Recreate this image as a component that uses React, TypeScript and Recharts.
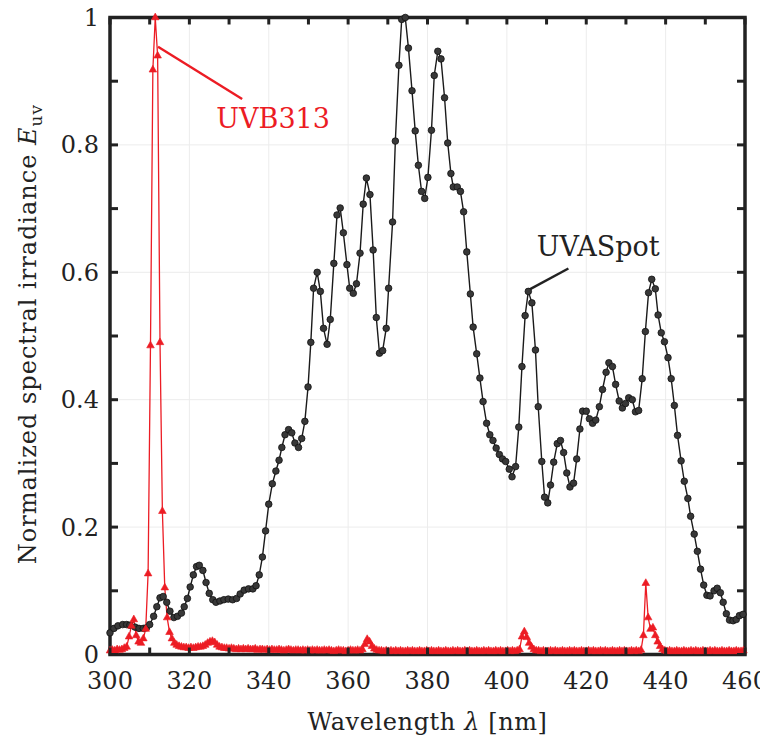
import React from 'react'
import {
  LineChart,
  Line,
  XAxis,
  YAxis,
  CartesianGrid,
  ReferenceLine,
  ReferenceDot,
} from 'recharts'

// ============================================
// Data
// ============================================

// UVASpot lamp, sampled wavelengths [nm]
const UVA_NM = [
  300.0, 301.0, 302.0, 303.2, 304.2, 305.0, 306.3, 307.3, 308.4, 309.2,
  310.0, 311.0, 311.8, 312.6, 313.4, 314.3, 315.1, 316.1, 317.0, 318.0,
  318.7, 319.5, 320.2, 321.0, 321.8, 322.5, 323.4, 324.2, 325.0, 325.9,
  326.7, 327.7, 328.7, 329.8, 330.9, 331.9, 332.8, 333.8, 334.9, 336.0,
  336.8, 337.6, 338.4, 339.2, 340.0, 340.9, 341.8, 342.6, 343.3, 344.1,
  345.0, 345.8, 346.6, 347.5, 348.3, 349.1, 349.9, 350.6, 351.3, 352.2,
  353.0, 353.8, 354.7, 355.5, 356.4, 357.2, 358.0, 358.8, 359.7, 360.4,
  361.3, 362.1, 363.0, 363.8, 364.6, 365.5, 366.3, 367.1, 367.9, 368.7,
  369.6, 370.2, 371.2, 371.9, 372.8, 373.5, 374.4, 375.2, 376.1, 376.9,
  377.7, 378.5, 379.3, 380.1, 381.0, 381.7, 382.6, 383.4, 384.3, 385.1,
  385.9, 386.5, 387.5, 388.3, 389.1, 389.9, 390.8, 391.5, 392.4, 393.2,
  394.0, 394.9, 395.7, 396.5, 397.3, 398.1, 398.9, 399.7, 400.6, 401.3,
  402.2, 403.0, 403.8, 404.6, 405.4, 406.3, 407.2, 407.9, 408.8, 409.5,
  410.3, 411.0, 411.8, 412.7, 413.5, 414.3, 415.1, 415.9, 416.8, 417.6,
  418.4, 419.1, 420.0, 420.8, 421.6, 422.4, 423.3, 424.1, 425.0, 425.7,
  426.6, 427.4, 428.3, 429.1, 429.9, 430.7, 431.6, 432.4, 433.2, 434.1,
  434.9, 435.7, 436.5, 437.4, 438.1, 438.9, 439.7, 440.6, 441.4, 442.2,
  443.0, 443.9, 444.7, 445.6, 446.3, 447.2, 448.0, 448.8, 449.6, 450.4,
  451.2, 452.2, 453.0, 453.8, 454.5, 455.3, 456.1, 457.0, 457.8, 458.6,
  459.5,
]

const UVA_VALUE = [
  0.034, 0.041, 0.045, 0.047, 0.047, 0.046, 0.043, 0.041, 0.041, 0.042,
  0.047, 0.060, 0.075, 0.089, 0.091, 0.082, 0.068, 0.058, 0.060, 0.065,
  0.075, 0.088, 0.106, 0.125, 0.138, 0.140, 0.132, 0.113, 0.096, 0.086,
  0.082, 0.084, 0.086, 0.087, 0.086, 0.088, 0.095, 0.101, 0.103, 0.103,
  0.108, 0.125, 0.153, 0.194, 0.236, 0.268, 0.288, 0.305, 0.325, 0.345,
  0.353, 0.348, 0.332, 0.325, 0.339, 0.366, 0.420, 0.490, 0.575, 0.600,
  0.570, 0.512, 0.487, 0.526, 0.614, 0.690, 0.701, 0.662, 0.612, 0.575,
  0.567, 0.582, 0.630, 0.707, 0.748, 0.722, 0.635, 0.529, 0.473, 0.477,
  0.512, 0.575, 0.679, 0.806, 0.925, 0.997, 1.000, 0.952, 0.885, 0.822,
  0.768, 0.727, 0.716, 0.749, 0.823, 0.909, 0.947, 0.935, 0.874, 0.803,
  0.755, 0.734, 0.734, 0.727, 0.695, 0.632, 0.566, 0.514, 0.472, 0.434,
  0.397, 0.363, 0.345, 0.336, 0.324, 0.314, 0.307, 0.303, 0.291, 0.279,
  0.295, 0.357, 0.452, 0.532, 0.570, 0.552, 0.478, 0.389, 0.303, 0.247,
  0.238, 0.266, 0.302, 0.331, 0.336, 0.317, 0.285, 0.263, 0.269, 0.307,
  0.354, 0.382, 0.382, 0.370, 0.363, 0.368, 0.389, 0.416, 0.443, 0.458,
  0.452, 0.424, 0.398, 0.387, 0.394, 0.403, 0.400, 0.381, 0.383, 0.433,
  0.507, 0.568, 0.589, 0.574, 0.533, 0.505, 0.491, 0.466, 0.433, 0.391,
  0.344, 0.304, 0.272, 0.245, 0.217, 0.189, 0.162, 0.134, 0.109, 0.093,
  0.092, 0.100, 0.104, 0.097, 0.082, 0.064, 0.054, 0.053, 0.055, 0.061,
  0.063,
]

// UVB313 lamp, sampled every 0.6 nm from 300 nm
const UVB_START_NM = 300
const UVB_STEP_NM = 0.6
const UVB_VALUE = [
  0.006, 0.007, 0.006, 0.008, 0.007, 0.008, 0.010, 0.012, 0.028, 0.045,
  0.055, 0.030, 0.020, 0.018, 0.025, 0.040, 0.127, 0.485, 0.918, 1.000,
  0.940, 0.490, 0.225, 0.105, 0.058, 0.035, 0.025, 0.018, 0.015, 0.013,
  0.012, 0.011, 0.011, 0.010, 0.011, 0.010, 0.011, 0.012, 0.012, 0.013,
  0.015, 0.018, 0.020, 0.021, 0.019, 0.015, 0.012, 0.011, 0.010, 0.010,
  0.009, 0.010, 0.009, 0.008, 0.009, 0.008, 0.009, 0.008, 0.009, 0.008,
  0.008, 0.009, 0.007, 0.008, 0.008, 0.007, 0.008, 0.007, 0.008, 0.007,
  0.007, 0.008, 0.007, 0.006, 0.007, 0.008, 0.007, 0.006, 0.007, 0.007,
  0.006, 0.007, 0.006, 0.007, 0.006, 0.007, 0.006, 0.007, 0.006, 0.006,
  0.007, 0.006, 0.007, 0.006, 0.005, 0.006, 0.007, 0.006, 0.006, 0.005,
  0.006, 0.007, 0.006, 0.006, 0.007, 0.006, 0.008, 0.016, 0.024, 0.020,
  0.013, 0.009, 0.007, 0.006, 0.006, 0.005, 0.006, 0.005, 0.006, 0.005,
  0.006, 0.005, 0.006, 0.005, 0.005, 0.006, 0.005, 0.006, 0.005, 0.005,
  0.006, 0.005, 0.005, 0.006, 0.005, 0.006, 0.005, 0.005, 0.006, 0.005,
  0.005, 0.006, 0.005, 0.005, 0.006, 0.005, 0.006, 0.005, 0.005, 0.006,
  0.005, 0.006, 0.005, 0.005, 0.006, 0.005, 0.005, 0.006, 0.005, 0.006,
  0.005, 0.005, 0.006, 0.005, 0.006, 0.005, 0.005, 0.006, 0.005, 0.006,
  0.005, 0.006, 0.008, 0.028, 0.036, 0.027, 0.018, 0.012, 0.008, 0.006,
  0.006, 0.005, 0.006, 0.005, 0.005, 0.006, 0.005, 0.006, 0.005, 0.005,
  0.006, 0.005, 0.005, 0.006, 0.005, 0.006, 0.005, 0.005, 0.006, 0.005,
  0.005, 0.006, 0.005, 0.006, 0.005, 0.005, 0.006, 0.005, 0.006, 0.005,
  0.005, 0.006, 0.005, 0.005, 0.006, 0.005, 0.006, 0.005, 0.005, 0.006,
  0.005, 0.006, 0.005, 0.007, 0.030, 0.112, 0.058, 0.040, 0.042, 0.030,
  0.020, 0.013, 0.008, 0.006, 0.005, 0.006, 0.005, 0.005, 0.006, 0.005,
  0.005, 0.006, 0.005, 0.005, 0.006, 0.005, 0.006, 0.005, 0.005, 0.006,
  0.005, 0.005, 0.006, 0.005, 0.006, 0.005, 0.005, 0.006, 0.005, 0.005,
  0.006, 0.005, 0.005, 0.006, 0.005, 0.005, 0.006,
]

const X_TICKS = [300, 310, 320, 330, 340, 350, 360, 370, 380, 390, 400, 410, 420, 430, 440, 450, 460]
const X_GRID = [320, 340, 360, 380, 400, 420, 440]
const Y_TICKS = [0, 0.1, 0.2, 0.3, 0.4, 0.5, 0.6, 0.7, 0.8, 0.9, 1]
const Y_GRID = [0.2, 0.4, 0.6, 0.8]

// annotation anchors in data units
const UVB_LEADER = [{ x: 312.1, y: 0.954 }, { x: 333.3, y: 0.872 }]
const UVB_TEXT_AT = { x: 341.1, y: 0.842 }
const UVA_LEADER = [{ x: 405.4, y: 0.572 }, { x: 415.5, y: 0.606 }]
const UVA_TEXT_AT = { x: 423.0, y: 0.641 }

// ============================================
// Layout and styles
// ============================================

const CHART_W = 760
const CHART_H = 732
const MARGIN = { top: 9.5, right: 23, left: 0, bottom: 35.5 }
const Y_AXIS_W = 102
const X_AXIS_H = 50
const PLOT_LEFT = MARGIN.left + Y_AXIS_W
const PLOT_RIGHT = CHART_W - MARGIN.right
const PLOT_TOP = MARGIN.top
const PLOT_BOTTOM = CHART_H - MARGIN.bottom - X_AXIS_H

const FONT = '"DejaVu Serif", "Liberation Serif", "Times New Roman", serif'
const RED = '#ec1c24'
const INK = '#222'
const TICK_LEN = 7

const uvaData = UVA_NM.map((nm, i) => ({ x: nm, y: UVA_VALUE[i] }))
const uvbData = UVB_VALUE.map((v, i) => ({
  x: Math.round((UVB_START_NM + i * UVB_STEP_NM) * 10) / 10,
  y: v,
}))

function formatX(v: number): string {
  return v % 20 === 0 ? String(v) : ''
}

function formatY(v: number): string {
  const k = Math.round(v * 10)
  if (k % 2 !== 0) return ''
  if (k === 0) return '0'
  if (k === 10) return '1'
  return (k / 10).toFixed(1)
}

// ============================================
// Marks, ticks and labels
// ============================================

function TriangleDot(props: any) {
  const { cx, cy, index } = props
  if (cx == null || cy == null) return <g key={index} />
  const pts = `${cx},${cy - 4.4} ${cx - 3.8},${cy + 2.3} ${cx + 3.8},${cy + 2.3}`
  return <polygon key={index} points={pts} fill={RED} stroke={RED} strokeWidth={0.6} />
}

// bottom tick: inward tick on bottom and top edge, label below
function XTick(props: any) {
  const { x, payload } = props
  const label = formatX(payload.value)
  return (
    <g>
      <line x1={x} x2={x} y1={PLOT_BOTTOM} y2={PLOT_BOTTOM - TICK_LEN} stroke={INK} strokeWidth={3} />
      <line x1={x} x2={x} y1={PLOT_TOP} y2={PLOT_TOP + TICK_LEN} stroke={INK} strokeWidth={3} />
      {label && (
        <text x={x} y={PLOT_BOTTOM + 34.5} textAnchor="middle" fill={INK} style={{ fontFamily: FONT, fontSize: 24 }}>
          {label}
        </text>
      )}
    </g>
  )
}

// left tick: inward tick on left and right edge, label to the left
function YTick(props: any) {
  const { y, payload } = props
  const label = formatY(payload.value)
  return (
    <g>
      <line x1={PLOT_LEFT} x2={PLOT_LEFT + TICK_LEN + 1} y1={y} y2={y} stroke={INK} strokeWidth={3} />
      <line x1={PLOT_RIGHT} x2={PLOT_RIGHT - TICK_LEN - 1} y1={y} y2={y} stroke={INK} strokeWidth={3} />
      {label && (
        <text x={PLOT_LEFT - 11} y={y + 8.5} textAnchor="end" fill={INK} style={{ fontFamily: FONT, fontSize: 24 }}>
          {label}
        </text>
      )}
    </g>
  )
}

function XTitle(props: any) {
  const vb = props.viewBox
  if (!vb) return null
  return (
    <text
      x={vb.x + vb.width / 2}
      y={vb.y + 75}
      textAnchor="middle"
      fill={INK}
      style={{ fontFamily: FONT, fontSize: 24, letterSpacing: 0.6 }}
    >
      Wavelength <tspan fontStyle="italic">λ</tspan> [nm]
    </text>
  )
}

function YTitle(props: any) {
  const vb = props.viewBox
  if (!vb) return null
  const cx = vb.x + 28
  const cy = vb.y + vb.height / 2 - 2
  return (
    <g>
      <rect
        x={PLOT_LEFT}
        y={PLOT_TOP}
        width={PLOT_RIGHT - PLOT_LEFT}
        height={PLOT_BOTTOM - PLOT_TOP}
        fill="none"
        stroke={INK}
        strokeWidth={3.5}
      />
      <text
        x={cx}
        y={cy}
        transform={`rotate(-90 ${cx} ${cy})`}
        textAnchor="middle"
        fill={INK}
        style={{ fontFamily: FONT, fontSize: 24, letterSpacing: 1 }}
      >
        Normalized spectral irradiance <tspan fontStyle="italic">E</tspan>
        <tspan dy={6} style={{ fontSize: 17 }}>uv</tspan>
      </text>
    </g>
  )
}

// ============================================
// Main Component
// ============================================

export default function App() {
  return (
    <div style={{ width: CHART_W, height: CHART_H, fontFamily: FONT }}>
      <LineChart width={CHART_W} height={CHART_H} margin={MARGIN}>
        <CartesianGrid
          horizontalValues={Y_GRID}
          verticalValues={X_GRID}
          stroke="#ececec"
          strokeWidth={1}
        />
        <XAxis
          dataKey="x"
          type="number"
          domain={[300, 460]}
          ticks={X_TICKS}
          interval={0}
          tick={<XTick />}
          tickLine={false}
          axisLine={false}
          height={X_AXIS_H}
          label={<XTitle />}
        />
        <YAxis
          type="number"
          domain={[0, 1]}
          ticks={Y_TICKS}
          interval={0}
          tick={<YTick />}
          tickLine={false}
          axisLine={false}
          width={Y_AXIS_W}
          label={<YTitle />}
        />

        <Line
          data={uvaData}
          dataKey="y"
          stroke="#1a1a1a"
          strokeWidth={1.4}
          dot={{ r: 3.3, fill: '#383838', stroke: '#111', strokeWidth: 0.8 }}
          activeDot={false}
          isAnimationActive={false}
        />
        <Line
          data={uvbData}
          dataKey="y"
          stroke={RED}
          strokeWidth={1.3}
          dot={TriangleDot}
          activeDot={false}
          isAnimationActive={false}
        />

        <ReferenceLine segment={UVB_LEADER} stroke={RED} strokeWidth={2.4} />
        <ReferenceLine segment={UVA_LEADER} stroke={INK} strokeWidth={2.4} />
        <ReferenceDot
          x={UVB_TEXT_AT.x}
          y={UVB_TEXT_AT.y}
          r={0}
          fill="none"
          stroke="none"
          label={{ value: 'UVB313', position: 'center', fill: RED, fontSize: 27, style: { fontFamily: FONT } }}
        />
        <ReferenceDot
          x={UVA_TEXT_AT.x}
          y={UVA_TEXT_AT.y}
          r={0}
          fill="none"
          stroke="none"
          label={{ value: 'UVASpot', position: 'center', fill: INK, fontSize: 27, style: { fontFamily: FONT } }}
        />
      </LineChart>
    </div>
  )
}
